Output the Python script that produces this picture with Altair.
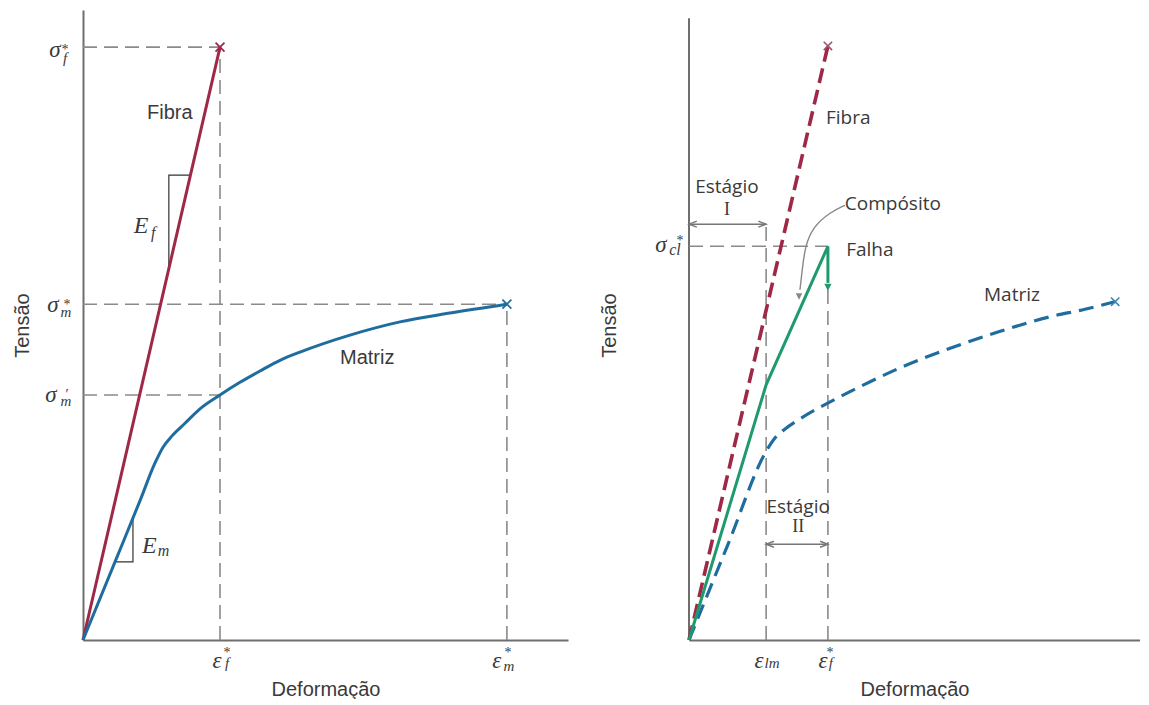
import altair as alt
import pandas as pd

# ---------------- Left panel (isostrain: fibre vs matrix) ----------------
L_FIBER_STRAIN = [0.0, 0.2825]
L_FIBER_STRESS = [0.0, 0.941]
L_MATRIX_STRAIN = [0.0, 0.066, 0.118, 0.1485, 0.165, 0.1835, 0.2103, 0.2412, 0.2825,
                   0.3237, 0.3649, 0.4062, 0.4474, 0.5505, 0.6536, 0.7567, 0.874]
L_MATRIX_STRESS = [0.0, 0.124, 0.222, 0.281, 0.306, 0.324, 0.344, 0.367, 0.389,
                   0.409, 0.427, 0.444, 0.457, 0.484, 0.505, 0.519, 0.533]
L_EPS_F = 0.2825
L_EPS_M = 0.874
L_SIG_F = 0.941
L_SIG_M_STAR = 0.533
L_SIG_M_PRIME = 0.389
L_EF_TRI_X = [0.177, 0.177, 0.221]
L_EF_TRI_Y = [0.590, 0.738, 0.738]
L_EM_TRI_X = [0.066, 0.103, 0.103]
L_EM_TRI_Y = [0.124, 0.124, 0.197]

# ---------------- Right panel (composite) ----------------
R_FIBER_STRAIN = [0.0, 0.308]
R_FIBER_STRESS = [0.0, 0.943]
R_COMP_STRAIN = [0.0, 0.171, 0.308, 0.308]
R_COMP_STRESS = [0.0, 0.405, 0.625, 0.567]
R_COMP_TIP = 0.554
R_MATRIX_STRAIN = [0.0, 0.086, 0.173, 0.191, 0.213, 0.246, 0.313, 0.379, 0.468,
                   0.579, 0.690, 0.800, 0.878, 0.945]
R_MATRIX_STRESS = [0.0, 0.151, 0.302, 0.321, 0.335, 0.351, 0.378, 0.402, 0.432,
                   0.463, 0.490, 0.513, 0.525, 0.537]
R_EPS_LM = 0.171
R_EPS_F = 0.308
R_SIG_CL = 0.625
R_STAGE1_Y = 0.660
R_STAGE2_Y = 0.152
R_AXIS_TOP = 0.987
R_CURVE_X = [0.346, 0.313, 0.275, 0.257, 0.251, 0.246]
R_CURVE_Y = [0.690, 0.679, 0.656, 0.624, 0.587, 0.556]
R_CURVE_TIP = (0.244, 0.540)

# colours / fonts
RED = "#9e2846"
BLUE = "#1f6c9e"
GREEN = "#1f9a6c"
GUIDE = "#8a8a8a"
AXC = "#6e6e6e"
TXT = "#3a3a3a"
SANS = "Liberation Sans"
SANS_R = "Open Sans"
SERIF = "Liberation Serif"
XMARK = "M -1 -1 L 1 1 M -1 1 L 1 -1"
HEAD_L = "M 2.6 -1 L 0 0 L 2.6 1"
HEAD_R = "M -2.6 -1 L 0 0 L -2.6 1"
HEAD_D = "M -1.2 -2.4 L 0 0 L 1.2 -2.4 Z"


def axes(xtitle, ytitle, ydomain=True, ypad=51):
    xa = alt.Axis(title=xtitle, labels=False, ticks=False, grid=False, domainColor=AXC,
                  domainWidth=2, titleFont=SANS, titleFontSize=20, titleFontWeight="normal",
                  titleColor=TXT, titlePadding=39, minExtent=0)
    ya = alt.Axis(title=ytitle, labels=False, ticks=False, grid=False, domain=ydomain,
                  domainColor=AXC, domainWidth=2, titleFont=SANS, titleFontSize=20,
                  titleFontWeight="normal", titleColor=TXT, titlePadding=ypad, minExtent=0)
    return xa, ya


def make_enc(xa, ya):
    sc = alt.Scale(domain=[0, 1], nice=False, zero=False)
    def X():
        return alt.X("x:Q", scale=sc, axis=xa)
    def Y():
        return alt.Y("y:Q", scale=sc, axis=ya)
    return X, Y


def line(xs, ys, X, Y, **kw):
    d = pd.DataFrame({"x": xs, "y": ys, "i": list(range(len(xs)))})
    return alt.Chart(d).mark_line(**kw).encode(x=X(), y=Y(), order="i:Q")


def rules(rows, X, Y, **kw):
    d = pd.DataFrame(rows, columns=["x", "y", "x2", "y2"])
    return alt.Chart(d).mark_rule(**kw).encode(x=X(), y=Y(), x2="x2:Q", y2="y2:Q")


def point(x, y, X, Y, **kw):
    d = pd.DataFrame({"x": [x], "y": [y]})
    return alt.Chart(d).mark_point(**kw).encode(x=X(), y=Y())


def text(x, y, t, X, Y, size=20, font=SANS, style="normal", dx=0, dy=0,
         baseline="middle", align="center", color=TXT):
    d = pd.DataFrame({"x": [x], "y": [y], "t": [t]})
    return alt.Chart(d).mark_text(fontSize=size, font=font, fontStyle=style, dx=dx, dy=dy,
                                  baseline=baseline, align=align, color=color).encode(
        x=X(), y=Y(), text="t:N")


def math_label(x, y, base, sub, sup, X, Y, b, s, p, bsize=23, ssize=15):
    layers = [text(x, y, base, X, Y, size=bsize, font=SERIF, style="italic",
                   dx=b[0], dy=b[1], baseline="alphabetic"),
              text(x, y, sub, X, Y, size=ssize, font=SERIF, style="italic",
                   dx=s[0], dy=s[1], baseline="alphabetic")]
    if sup:
        layers.append(text(x, y, sup, X, Y, size=14, font=SERIF, dx=p[0], dy=p[1],
                           baseline="alphabetic"))
    return layers


# ================= LEFT =================
xa, ya = axes("Deformação", "Tensão")
X, Y = make_enc(xa, ya)
dash = dict(color=GUIDE, strokeDash=[14, 7], strokeWidth=1.6)
L_layers = [
    rules([(0, L_SIG_F, L_EPS_F, L_SIG_F), (L_EPS_F, 0, L_EPS_F, L_SIG_F),
           (0, L_SIG_M_STAR, L_EPS_M, L_SIG_M_STAR), (L_EPS_M, 0, L_EPS_M, L_SIG_M_STAR),
           (0, L_SIG_M_PRIME, L_EPS_F, L_SIG_M_PRIME)], X, Y, **dash),
    line(L_EF_TRI_X, L_EF_TRI_Y, X, Y, color="#333", strokeWidth=1.2),
    line(L_EM_TRI_X, L_EM_TRI_Y, X, Y, color="#333", strokeWidth=1.2),
    line(L_FIBER_STRAIN, L_FIBER_STRESS, X, Y, color=RED, strokeWidth=3),
    line(L_MATRIX_STRAIN, L_MATRIX_STRESS, X, Y, color=BLUE, strokeWidth=3, interpolate="monotone"),
    point(L_EPS_F, L_SIG_F, X, Y, shape=XMARK, size=80, color=RED, strokeWidth=1.8, filled=False, opacity=1),
    point(L_EPS_M, L_SIG_M_STAR, X, Y, shape=XMARK, size=80, color=BLUE, strokeWidth=1.8, filled=False, opacity=1),
    text(0.179, 0.837, "Fibra", X, Y),
    text(0.586, 0.448, "Matriz", X, Y),
]
L_layers += math_label(0.120, 0.646, "E", "f", None, X, Y, (0, 0), (12, 5), None, bsize=24, ssize=16)
L_layers += math_label(0.137, 0.138, "E", "m", None, X, Y, (0, 0), (14, 3), None, bsize=24, ssize=16)
L_layers += math_label(0, L_SIG_F, "σ", "f", "*", X, Y, (-28, 10), (-18, 16), (-18, 7))
L_layers += math_label(0, L_SIG_M_STAR, "σ", "m", "*", X, Y, (-30, 8), (-17, 13), (-16, 5))
L_layers += math_label(0, L_SIG_M_PRIME, "σ", "m", "′", X, Y, (-32, 7), (-17, 11), (-16, 4))
L_layers += math_label(L_EPS_F, 0, "ε", "f", "*", X, Y, (-3, 28), (7, 28), (7, 17))
L_layers += math_label(L_EPS_M, 0, "ε", "m", "*", X, Y, (-10, 28), (2, 31), (1, 17))
left = alt.layer(*L_layers).properties(width=485, height=630)

# ================= RIGHT =================
xa2, ya2 = axes("Deformação", "Tensão", ydomain=False, ypad=70)
X2, Y2 = make_enc(xa2, ya2)
R_layers = [
    rules([(0, 0, 0, R_AXIS_TOP)], X2, Y2, color=AXC, strokeWidth=2),
    rules([(0, R_SIG_CL, R_EPS_F, R_SIG_CL), (R_EPS_LM, 0, R_EPS_LM, R_STAGE1_Y + 0.006),
           (R_EPS_F, 0, R_EPS_F, R_SIG_CL)], X2, Y2, **dash),
    # stage arrows
    rules([(0, R_STAGE1_Y, R_EPS_LM, R_STAGE1_Y), (R_EPS_LM, R_STAGE2_Y, R_EPS_F, R_STAGE2_Y)],
          X2, Y2, color="#777", strokeWidth=1.4),
    point(0, R_STAGE1_Y, X2, Y2, shape=HEAD_L, size=36, color="#777", strokeWidth=1.4, filled=False, opacity=1),
    point(R_EPS_LM, R_STAGE1_Y, X2, Y2, shape=HEAD_R, size=36, color="#777", strokeWidth=1.4, filled=False, opacity=1),
    point(R_EPS_LM, R_STAGE2_Y, X2, Y2, shape=HEAD_L, size=36, color="#777", strokeWidth=1.4, filled=False, opacity=1),
    point(R_EPS_F, R_STAGE2_Y, X2, Y2, shape=HEAD_R, size=36, color="#777", strokeWidth=1.4, filled=False, opacity=1),
    line(R_MATRIX_STRAIN, R_MATRIX_STRESS, X2, Y2, color=BLUE, strokeWidth=3.2,
         strokeDash=[15, 8], interpolate="monotone"),
    line(R_FIBER_STRAIN, R_FIBER_STRESS, X2, Y2, color=RED, strokeWidth=3.6, strokeDash=[15, 7]),
    line(R_COMP_STRAIN, R_COMP_STRESS, X2, Y2, color=GREEN, strokeWidth=3, strokeJoin="miter"),
    point(R_EPS_F, R_COMP_TIP, X2, Y2, shape=HEAD_D, size=36, color=GREEN, filled=True, opacity=1),
    line(R_CURVE_X, R_CURVE_Y, X2, Y2, color="#888", strokeWidth=1.4, interpolate="basis"),
    point(R_CURVE_TIP[0], R_CURVE_TIP[1], X2, Y2, shape=HEAD_D, size=30, color="#888", filled=True, opacity=1),
    point(R_FIBER_STRAIN[1], R_FIBER_STRESS[1], X2, Y2, shape=XMARK, size=70, color="#a0506a", strokeWidth=1.6, filled=False, opacity=1),
    point(R_MATRIX_STRAIN[-1], R_MATRIX_STRESS[-1], X2, Y2, shape=XMARK, size=70, color="#3a86b8", strokeWidth=1.6, filled=False, opacity=1),
    text(0.353, 0.829, "Fibra", X2, Y2, font=SANS_R, size=19),
    text(0.716, 0.548, "Matriz", X2, Y2, font=SANS_R, size=19),
    text(0.452, 0.692, "Compósito", X2, Y2, font=SANS_R, size=19),
    text(0.401, 0.619, "Falha", X2, Y2, font=SANS_R, size=19),
    text(0.084, 0.719, "Estágio", X2, Y2, font=SANS_R, size=19),
    text(0.084, 0.683, "I", X2, Y2, font=SERIF, size=18),
    text(0.242, 0.211, "Estágio", X2, Y2, font=SANS_R, size=19),
    text(0.242, 0.179, "II", X2, Y2, font=SERIF, size=18),
]
R_layers += math_label(0, R_SIG_CL, "σ", "cl", "*", X2, Y2, (-28, 6), (-14, 9), (-9, -1), ssize=16)
R_layers += math_label(R_EPS_LM, 0, "ε", "lm", None, X2, Y2, (-7, 28), (6, 28), None)
R_layers += math_label(R_EPS_F, 0, "ε", "f", "*", X2, Y2, (-5, 28), (3, 28), (2, 17))
right = alt.layer(*R_layers).properties(width=451, height=630)

chart = alt.hconcat(left, right, spacing=31).properties(
    padding={"left": 4, "top": 2, "right": 0, "bottom": 0}
).configure_view(stroke=None)

chart.save("out.html", embed_options={"renderer": "svg", "actions": False})
